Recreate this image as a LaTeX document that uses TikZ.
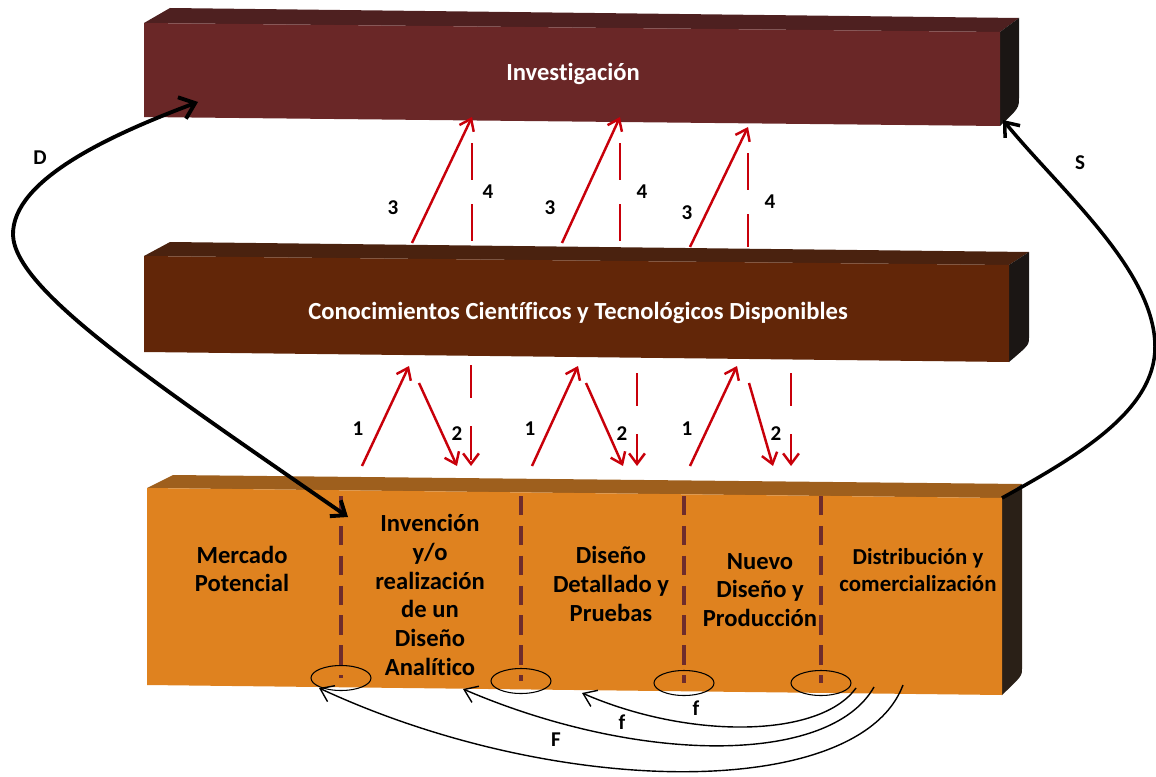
\documentclass[tikz,border=0pt]{standalone}
\usepackage{fontspec}
\setmainfont{Carlito}[Ligatures=NoCommon]
\usetikzlibrary{arrows.meta,shapes.geometric}

\definecolor{invfront}{HTML}{6A2727}
\definecolor{invtop}{HTML}{4E2020}
\definecolor{conofront}{HTML}{622608}
\definecolor{conotop}{HTML}{4A220F}
\definecolor{bfront}{HTML}{DF821F}
\definecolor{btop}{HTML}{9E5F1D}
\definecolor{sidedark}{HTML}{1B1614}
\definecolor{bside}{HTML}{2A2017}
\definecolor{flowred}{HTML}{C8000A}
\definecolor{divider}{HTML}{6E2C2C}

\tikzset{
  bartitle/.style={text=white, font=\bfseries\fontsize{14}{16}\selectfont, inner sep=0pt},
  stage/.style={text=black, align=center, font=\bfseries\fontsize{14}{16.4}\selectfont, inner sep=0pt},
  stagesmall/.style={text=black, align=center, font=\bfseries\fontsize{13}{15}\selectfont, inner sep=0pt},
  lbl/.style={text=black, font=\bfseries\fontsize{12}{13}\selectfont, inner sep=0pt},
  flow/.style={draw=flowred, line width=1.4pt, -{Straight Barb[length=6pt,width=9pt]}},
  flowdash/.style={draw=flowred, line width=1.4pt, dash pattern=on 19pt off 16pt},
  divline/.style={draw=divider, line width=2.3pt, dash pattern=on 11pt off 6pt},
  ring/.style={draw=black, line width=0.6pt, ellipse, minimum width=1.2cm, minimum height=0.5cm, inner sep=0pt},
  ret/.style={draw=black, line width=0.8pt, -{Straight Barb[length=7pt,width=10pt]}},
  bigarc/.style={draw=black, line width=2.2pt},
}

\begin{document}
\begin{tikzpicture}[x=0.02cm,y=-0.02cm]
\useasboundingbox (0,0) rectangle (1156,777);

% --- Investigación bar ---
\fill[invtop] (144,23) -- (170,8) -- (1019,18) -- (1000,32) -- cycle;
\fill[sidedark] (1000,32) -- (1019,18) -- (1019,97) .. controls (1019,108) .. (1000,126) -- cycle;
\fill[invfront] (144,23) -- (1000,32) -- (1000,126) -- (144,117) -- cycle;
\node[bartitle] (inv) at (573,74) {Investigación};

% --- Conocimientos bar ---
\fill[conotop] (144,256) -- (170,242) -- (1029,252) -- (1009,265) -- cycle;
\fill[sidedark] (1009,265) -- (1029,252) -- (1029,337) .. controls (1029,345) .. (1009,362) -- cycle;
\fill[conofront] (144,256) -- (1009,265) -- (1009,362) -- (144,352) -- cycle;
\node[bartitle] (cono) at (578,313) {Conocimientos Científicos y Tecnológicos Disponibles};

% --- Stages bar ---
\fill[btop] (147,488) -- (173,475) -- (1022,484) -- (1002,498) -- cycle;
\fill[bside] (1002,498) -- (1022,484) -- (1022,668) .. controls (1022,676) .. (1002,695) -- cycle;
\fill[bfront] (147,488) -- (1002,498) -- (1002,695) -- (147,685) -- cycle;

\node[stage] (mp) at (242,569) {Mercado\\Potencial};
\node[stage] (inva) at (430,595) {Invención\\y/o\\realización\\de un\\Diseño\\Analítico};
\node[stage] (ddp) at (611,584) {Diseño\\Detallado y\\Pruebas};
\node[stage] (ndp) at (760,590) {Nuevo\\Diseño y\\Producción};
\node[stagesmall] (dc) at (918,570) {Distribución y\\comercialización};

% stage dividers and rings
\foreach \n/\x/\y in {1/341/678, 2/521/681, 3/684/683, 4/821/683}{
  \node[ring] (e\n) at (\x,\y) {};
  \coordinate (t\n) at (\x,496);
  \draw[divline] (t\n) -- (e\n.center);
}

% --- red flows between stages and knowledge ---
\foreach \i/\a/\b/\c/\d/\e/\top in {1/362/409/419/457/471/365, 2/532/578/586/623/637/373, 3/690/737/749/773/791/373}{
  \coordinate (u\i s) at (\a,466);
  \coordinate (u\i e) at (\b,366);
  \coordinate (v\i s) at (\c,383);
  \coordinate (v\i e) at (\d,466);
  \coordinate (w\i s) at (\e,\top);
  \coordinate (w\i e) at (\e,466);
  \draw[flow] (u\i s) -- (u\i e);
  \draw[flow] (v\i s) -- (v\i e);
  \draw[flowdash, -{Straight Barb[length=6pt,width=9pt]}] (w\i s) -- (w\i e);
}
\node[lbl] (l1a) at (358,429) {1};
\node[lbl] (l1b) at (530,429) {1};
\node[lbl] (l1c) at (687,429) {1};
\node[lbl] (l2a) at (457,434) {2};
\node[lbl] (l2b) at (622,434) {2};
\node[lbl] (l2c) at (776,434) {2};

% --- red flows between knowledge and research ---
\foreach \i/\a/\b/\y/\tip/\ys in {1/412/472/243/117/143, 2/562/620/243/117/143, 3/690/748/247/127/153}{
  \coordinate (p\i s) at (\a,\y);
  \coordinate (p\i e) at (\b,\tip);
  \draw[flow] (p\i s) -- (p\i e);
  \coordinate (q\i s) at (\b,\ys);
  \coordinate (q\i e) at (\b,\y);
  \draw[flowdash, dash pattern=on 21pt off 14pt] (q\i s) -- (q\i e);
}
\node[lbl] (l3a) at (393,208) {3};
\node[lbl] (l3b) at (550,208) {3};
\node[lbl] (l3c) at (687,213) {3};
\node[lbl] (l4a) at (488,192) {4};
\node[lbl] (l4b) at (642,192) {4};
\node[lbl] (l4c) at (770,202) {4};

% --- D: demand loop from market to research ---
\coordinate (dbot) at (348,517);
\coordinate (dtop) at (198,102);
\coordinate (dmid) at (13,235);
\draw[bigarc, {Straight Barb[length=7pt,width=11pt]}-{Straight Barb[length=8pt,width=13pt]}]
  (dbot) .. controls (150,380) and (15,290) .. (dmid)
         .. controls (12,180) and (110,135) .. (dtop);
\node[lbl] (ld) at (40,158) {D};

% --- S: supply loop from distribution to research ---
\coordinate (sbot) at (1002,498);
\coordinate (stop) at (1003,120);
\coordinate (smid) at (1155,347);
\draw[bigarc, line width=2pt, -{Straight Barb[length=7pt,width=11pt]}]
  (sbot) .. controls (1080,455) and (1155,410) .. (smid)
         .. controls (1155,270) and (1060,190) .. (stop);
\node[lbl] (ls) at (1080,163) {S};

% --- feedback arrows along the base ---
\coordinate (f1s) at (856,688);
\coordinate (f1e) at (582,693);
\coordinate (f2s) at (874,687);
\coordinate (f2e) at (463,689);
\coordinate (f3s) at (903,685);
\coordinate (f3e) at (319,688);
\draw[ret] (f1s) .. controls (820,738) and (690,740) .. (f1e);
\draw[ret] (f2s) .. controls (830,765) and (640,765) .. (f2e);
\draw[ret] (f3s) .. controls (860,800) and (560,800) .. (f3e);
\node[lbl] (lf1) at (696,708) {f};
\node[lbl] (lf2) at (622,722) {f};
\node[lbl] (lF) at (556,740) {F};
\end{tikzpicture}
\end{document}
